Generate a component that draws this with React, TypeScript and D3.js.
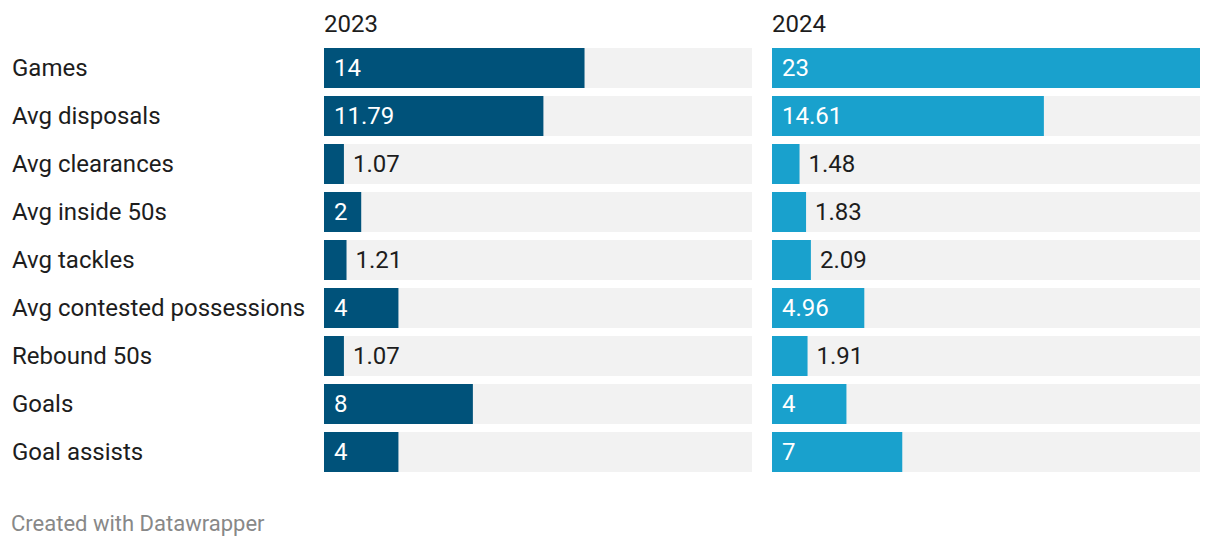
import React from "react";
import * as d3 from "d3";

const categories = [
  "Games",
  "Avg disposals",
  "Avg clearances",
  "Avg inside 50s",
  "Avg tackles",
  "Avg contested possessions",
  "Rebound 50s",
  "Goals",
  "Goal assists",
];
const values2023 = [14, 11.79, 1.07, 2, 1.21, 4, 1.07, 8, 4];
const values2024 = [23, 14.61, 1.48, 1.83, 2.09, 4.96, 1.91, 4, 7];
const panelTitles = ["2023", "2024"];
const panelColors = ["#00527a", "#19a1cd"];

const W = 1220;
const H = 548;
const FONT = "Roboto, 'Noto Sans', sans-serif";
const FS = 24;

function textWidth(s: string, size: number) {
  let w = 0;
  for (const c of s) w += c === "." ? 0.26 * size : 0.562 * size;
  return w;
}

export default function App() {
  const panels = [values2023, values2024];
  const panelX = [324, 772];
  const panelW = 428;
  const step = 48;
  const bh = 40;
  const y = d3
    .scalePoint<string>()
    .domain(categories)
    .range([48, 48 + step * (categories.length - 1)]);
  const maxV = d3.max([...values2023, ...values2024]) as number;
  const x = d3.scaleLinear().domain([0, maxV]).range([0, panelW]);

  return (
    <svg
      width={W}
      height={H}
      style={{ position: "absolute", left: 0, top: 0, fontFamily: FONT }}
    >
      <rect width={W} height={H} fill="#fff" />
      {categories.map((c) => (
        <text
          key={c}
          x={12}
          y={(y(c) as number) + bh / 2}
          dy="0.34em"
          fontSize={FS}
          fill="#1d1d1d"
        >
          {c}
        </text>
      ))}
      {panels.map((vals, pi) => (
        <g key={pi} transform={`translate(${panelX[pi]},0)`}>
          <text x={0} y={32} fontSize={FS} fill="#1d1d1d">
            {panelTitles[pi]}
          </text>
          {categories.map((c, i) => {
            const v = vals[i];
            const bw = x(v);
            const label = String(v);
            const tw = textWidth(label, FS);
            const inside = tw + 20 < bw;
            const yy = y(c) as number;
            return (
              <g key={c}>
                <rect x={0} y={yy} width={panelW} height={bh} fill="#f2f2f2" />
                <rect x={0} y={yy} width={bw} height={bh} fill={panelColors[pi]} />
                <text
                  x={inside ? 10 : bw + 9}
                  y={yy + bh / 2}
                  dy="0.34em"
                  fontSize={FS}
                  fill={inside ? "#fff" : "#1d1d1d"}
                >
                  {label}
                </text>
              </g>
            );
          })}
        </g>
      ))}
      <text x={11} y={531} fontSize={22} fill="#888">
        Created with Datawrapper
      </text>
    </svg>
  );
}
